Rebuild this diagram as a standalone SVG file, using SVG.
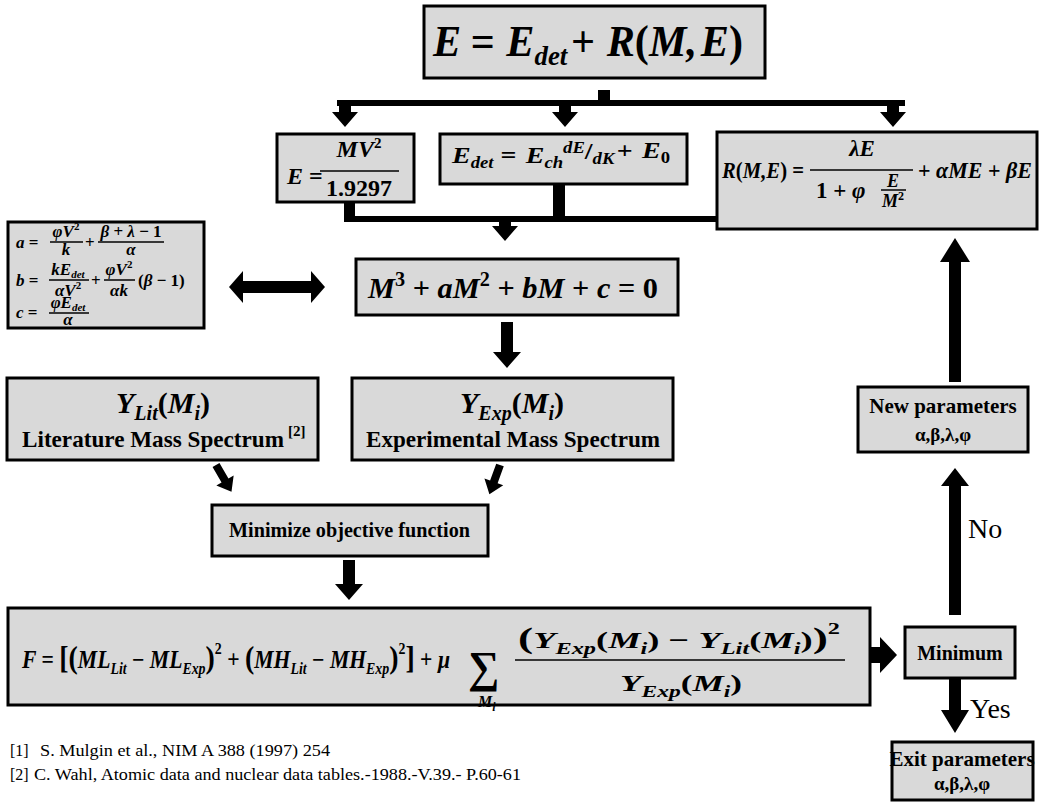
<svg xmlns="http://www.w3.org/2000/svg" width="1039" height="803" viewBox="0 0 1039 803" font-family="Liberation Serif, Tinos, Times New Roman, DejaVu Serif, Noto Serif, serif">
<style>
.box{fill:#d9d9d9;stroke:#000;stroke-width:3}
.m{font-weight:bold;font-style:italic;fill:#000}
.u{font-style:normal}
.t{font-weight:bold;fill:#000}
.r{fill:#000}
.fl{stroke:#000;stroke-width:1.5}
.ar{fill:#000}
</style>
<rect width="1039" height="803" fill="#fff"/>

<g id="connectors">
  <rect class="ar" x="598" y="90" width="12" height="12"/>
  <rect class="ar" x="337" y="100" width="568" height="6"/>
  <path class="ar" d="M339,106 h12 v6 h7 l-13,15 l-13,-15 h7 z"/>
  <path class="ar" d="M559,106 h12 v6 h7 l-13,15 l-13,-15 h7 z"/>
  <path class="ar" d="M887,106 h12 v6 h7 l-13,15 l-13,-15 h7 z"/>
  <rect class="ar" x="344" y="202" width="11" height="16"/>
  <rect class="ar" x="553" y="184" width="12" height="34"/>
  <rect class="ar" x="344" y="216" width="373" height="6"/>
  <path class="ar" d="M499,222 h12 v4 h7 l-13,15 l-13,-15 h7 z"/>
  <path class="ar" d="M229,287 L243,271 V281 H311 V271 L325,287 L311,303 V293 H243 V303 Z"/>
  <path class="ar" d="M501,322 h12 v30 h8 l-14,16 l-14,-16 h8 z"/>
  <path class="ar" d="M-4,0 h8 v18 h6 l-10,13 l-10,-13 h6 z" transform="translate(216,465) rotate(-30)"/>
  <path class="ar" d="M-4,0 h8 v18 h6 l-10,13 l-10,-13 h6 z" transform="translate(500,465) rotate(20)"/>
  <path class="ar" d="M343,560 h12 v24 h8 l-14,16 l-14,-16 h8 z"/>
  <path class="ar" d="M870,647 H880 V637 L897,655 L880,673 V663 H870 Z"/>
  <path class="ar" d="M949,615 V486 H941 L955,468 L969,486 H961 V615 Z"/>
  <path class="ar" d="M949,382 V262 H940 L955,238 L970,262 H961 V382 Z"/>
  <path class="ar" d="M949,678 V710 H941 L955,733 L969,710 H961 V678 Z"/>
  <text class="r" x="968" y="538" font-size="28">No</text>
  <text class="r" x="970" y="718" font-size="28">Yes</text>
</g>

<g id="n-top">
  <rect class="box" x="424" y="6" width="341" height="72"/>
  <text class="m" x="433" y="56" font-size="44" textLength="310" lengthAdjust="spacingAndGlyphs">E<tspan class="u" dx="10">=</tspan><tspan dx="12">E</tspan><tspan font-size="28" dy="9">det</tspan><tspan class="u" dy="-9" dx="4">+</tspan><tspan dx="12">R</tspan><tspan class="u">(</tspan>M,<tspan dx="4">E</tspan><tspan class="u">)</tspan></text>
</g>

<g id="n-ekin">
  <rect class="box" x="277" y="134" width="137" height="68"/>
  <text class="m" x="287" y="184" font-size="24">E <tspan class="u">=</tspan></text>
  <text class="m" x="359" y="157" font-size="24" text-anchor="middle">MV<tspan class="u" font-size="15" dy="-9">2</tspan></text>
  <line class="fl" x1="320" y1="171" x2="399" y2="171"/>
  <text class="m u" x="359" y="196" font-size="24" text-anchor="middle">1.9297</text>
</g>

<g id="n-edet">
  <rect class="box" x="440" y="134" width="247" height="50"/>
  <text class="m" x="452" y="163" font-size="24" textLength="218" lengthAdjust="spacingAndGlyphs">E<tspan font-size="16" dy="5">det</tspan><tspan class="u" dy="-5" dx="6">=</tspan><tspan dx="8">E</tspan><tspan font-size="16" dy="5">ch</tspan><tspan font-size="16" dy="-15">dE</tspan><tspan class="u" font-size="24" dy="6">/</tspan><tspan font-size="16" dy="5">dK</tspan><tspan class="u" dy="-6" dx="2">+</tspan><tspan dx="8">E</tspan><tspan class="u" font-size="16" dy="5">0</tspan></text>
</g>

<g id="n-r">
  <rect class="box" x="717" y="132" width="320" height="97"/>
  <text class="m" x="722" y="178" font-size="23" textLength="82" lengthAdjust="spacingAndGlyphs">R<tspan class="u">(</tspan>M,E<tspan class="u">) =</tspan></text>
  <text class="m" x="862" y="156" font-size="23" text-anchor="middle">λE</text>
  <line class="fl" x1="810" y1="170" x2="913" y2="170"/>
  <text class="m u" x="816" y="198" font-size="23">1 + <tspan class="m">φ</tspan></text>
  <text class="m" x="893" y="187" font-size="18" text-anchor="middle">E</text>
  <line class="fl" x1="881" y1="190" x2="906" y2="190" stroke-width="1"/>
  <text class="m" x="893" y="207" font-size="18" text-anchor="middle">M<tspan class="u" font-size="12" dy="-7">2</tspan></text>
  <text class="m" x="918" y="178" font-size="23" textLength="114" lengthAdjust="spacingAndGlyphs"><tspan class="u">+ </tspan>αME<tspan class="u"> + </tspan>βE</text>
</g>

<g id="n-abc">
  <rect class="box" x="8" y="222" width="196" height="106"/>
  <text class="m" x="16" y="248" font-size="17">a <tspan class="u">=</tspan></text>
  <text class="m" x="66" y="237" font-size="17" text-anchor="middle">φV<tspan class="u" font-size="11" dy="-7">2</tspan></text>
  <line class="fl" x1="50" y1="242" x2="83" y2="242" stroke-width="1"/>
  <text class="m" x="66" y="255" font-size="17" text-anchor="middle">k</text>
  <text class="m u" x="85" y="248" font-size="17">+</text>
  <text class="m" x="131" y="237" font-size="17" text-anchor="middle">β<tspan class="u"> + </tspan>λ<tspan class="u"> − 1</tspan></text>
  <line class="fl" x1="98" y1="242" x2="164" y2="242" stroke-width="1"/>
  <text class="m" x="131" y="255" font-size="17" text-anchor="middle">α</text>

  <text class="m" x="16" y="286" font-size="17">b <tspan class="u">=</tspan></text>
  <text class="m" x="68" y="275" font-size="17" text-anchor="middle">kE<tspan font-size="11" dy="3">det</tspan></text>
  <line class="fl" x1="49" y1="280" x2="89" y2="280" stroke-width="1"/>
  <text class="m" x="68" y="296" font-size="17" text-anchor="middle">αV<tspan class="u" font-size="11" dy="-7">2</tspan></text>
  <text class="m u" x="91" y="286" font-size="17">+</text>
  <text class="m" x="119" y="275" font-size="17" text-anchor="middle">φV<tspan class="u" font-size="11" dy="-7">2</tspan></text>
  <line class="fl" x1="104" y1="280" x2="135" y2="280" stroke-width="1"/>
  <text class="m" x="119" y="296" font-size="17" text-anchor="middle">αk</text>
  <text class="m" x="138" y="286" font-size="17"><tspan class="u">(</tspan>β<tspan class="u"> − 1)</tspan></text>

  <text class="m" x="16" y="318" font-size="17">c <tspan class="u">=</tspan></text>
  <text class="m" x="68" y="308" font-size="17" text-anchor="middle">φE<tspan font-size="11" dy="3">det</tspan></text>
  <line class="fl" x1="49" y1="313" x2="89" y2="313" stroke-width="1"/>
  <text class="m" x="68" y="325" font-size="17" text-anchor="middle">α</text>
</g>

<g id="n-cubic">
  <rect class="box" x="356" y="259" width="322" height="56"/>
  <text class="m" x="368" y="298" font-size="30" textLength="290" lengthAdjust="spacingAndGlyphs">M<tspan class="u" font-size="20" dy="-12">3</tspan><tspan class="u" dy="12"> + </tspan>aM<tspan class="u" font-size="20" dy="-12">2</tspan><tspan class="u" dy="12"> + </tspan>bM<tspan class="u"> + </tspan>c<tspan class="u"> = 0</tspan></text>
</g>

<g id="n-ylit">
  <rect class="box" x="7" y="378" width="311" height="82"/>
  <text class="m" x="163" y="413" font-size="30" text-anchor="middle">Y<tspan font-size="20" dy="7">Lit</tspan><tspan class="u" dy="-7">(</tspan>M<tspan font-size="20" dy="7">i</tspan><tspan class="u" dy="-7">)</tspan></text>
  <text class="t" x="22" y="447" font-size="24" textLength="262" lengthAdjust="spacingAndGlyphs">Literature Mass Spectrum</text>
  <text class="t" x="288" y="436" font-size="15">[2]</text>
</g>

<g id="n-yexp">
  <rect class="box" x="352" y="378" width="321" height="82"/>
  <text class="m" x="512" y="413" font-size="30" text-anchor="middle">Y<tspan font-size="20" dy="7">Exp</tspan><tspan class="u" dy="-7">(</tspan>M<tspan font-size="20" dy="7">i</tspan><tspan class="u" dy="-7">)</tspan></text>
  <text class="t" x="366" y="447" font-size="24" textLength="294" lengthAdjust="spacingAndGlyphs">Experimental Mass Spectrum</text>
</g>

<g id="n-minimize">
  <rect class="box" x="212" y="505" width="276" height="51"/>
  <text class="t" x="229" y="537" font-size="21" textLength="241" lengthAdjust="spacingAndGlyphs">Minimize objective function</text>
</g>

<g id="n-f">
  <rect class="box" x="8" y="608" width="862" height="97"/>
  <text class="m" x="22" y="668" font-size="25" textLength="428" lengthAdjust="spacingAndGlyphs">F <tspan class="u">= </tspan><tspan class="u" font-size="32">[(</tspan>ML<tspan font-size="16" dy="6">Lit</tspan><tspan class="u" dy="-6"> − </tspan>ML<tspan font-size="16" dy="6">Exp</tspan><tspan class="u" font-size="32" dy="-6">)</tspan><tspan class="u" font-size="16" dy="-14">2</tspan><tspan class="u" dy="14"> + </tspan><tspan class="u" font-size="32">(</tspan>MH<tspan font-size="16" dy="6">Lit</tspan><tspan class="u" dy="-6"> − </tspan>MH<tspan font-size="16" dy="6">Exp</tspan><tspan class="u" font-size="32" dy="-6">)</tspan><tspan class="u" font-size="16" dy="-14">2</tspan><tspan class="u" font-size="32" dy="14">]</tspan><tspan class="u"> + </tspan>μ</text>
  <text class="m u" x="468" y="682" font-size="44">∑</text>
  <text class="m" x="478" y="707" font-size="16">M<tspan font-size="12" dy="4">i</tspan></text>
  <text class="m" x="518" y="648" font-size="24" textLength="322" lengthAdjust="spacingAndGlyphs"><tspan class="u" font-size="30">(</tspan>Y<tspan font-size="16" dy="6">Exp</tspan><tspan class="u" dy="-6">(</tspan>M<tspan font-size="16" dy="6">i</tspan><tspan class="u" dy="-6">) − </tspan>Y<tspan font-size="16" dy="6">Lit</tspan><tspan class="u" dy="-6">(</tspan>M<tspan font-size="16" dy="6">i</tspan><tspan class="u" dy="-6">)</tspan><tspan class="u" font-size="30">)</tspan><tspan class="u" font-size="16" dy="-14">2</tspan></text>
  <line class="fl" x1="515" y1="660" x2="845" y2="660"/>
  <text class="m" x="620" y="691" font-size="24" textLength="122" lengthAdjust="spacingAndGlyphs">Y<tspan font-size="16" dy="6">Exp</tspan><tspan class="u" dy="-6">(</tspan>M<tspan font-size="16" dy="6">i</tspan><tspan class="u" dy="-6">)</tspan></text>
</g>

<g id="n-minimum">
  <rect class="box" x="905" y="627" width="110" height="51"/>
  <text class="t" x="960" y="660" font-size="20" text-anchor="middle">Minimum</text>
</g>

<g id="n-newparams">
  <rect class="box" x="858" y="387" width="170" height="65"/>
  <text class="t" x="943" y="413" font-size="21" text-anchor="middle">New parameters</text>
  <text class="t" x="943" y="441" font-size="19" text-anchor="middle">α,β,λ,φ</text>
</g>

<g id="n-exit">
  <rect class="box" x="892" y="742" width="141" height="58"/>
  <text class="t" x="962" y="766" font-size="21" text-anchor="middle">Exit parameters</text>
  <text class="t" x="962" y="790" font-size="19" text-anchor="middle">α,β,λ,φ</text>
</g>

<g id="refs">
  <text class="r" x="10" y="756" font-size="16">[1]</text>
  <text class="r" x="40" y="756" font-size="16" textLength="290" lengthAdjust="spacingAndGlyphs">S. Mulgin  et al., NIM A 388 (1997) 254</text>
  <text class="r" x="10" y="780" font-size="16">[2]</text>
  <text class="r" x="34" y="780" font-size="16" textLength="487" lengthAdjust="spacingAndGlyphs">C. Wahl, Atomic  data and nuclear  data tables.-1988.-V.39.- P.60-61</text>
</g>
</svg>
